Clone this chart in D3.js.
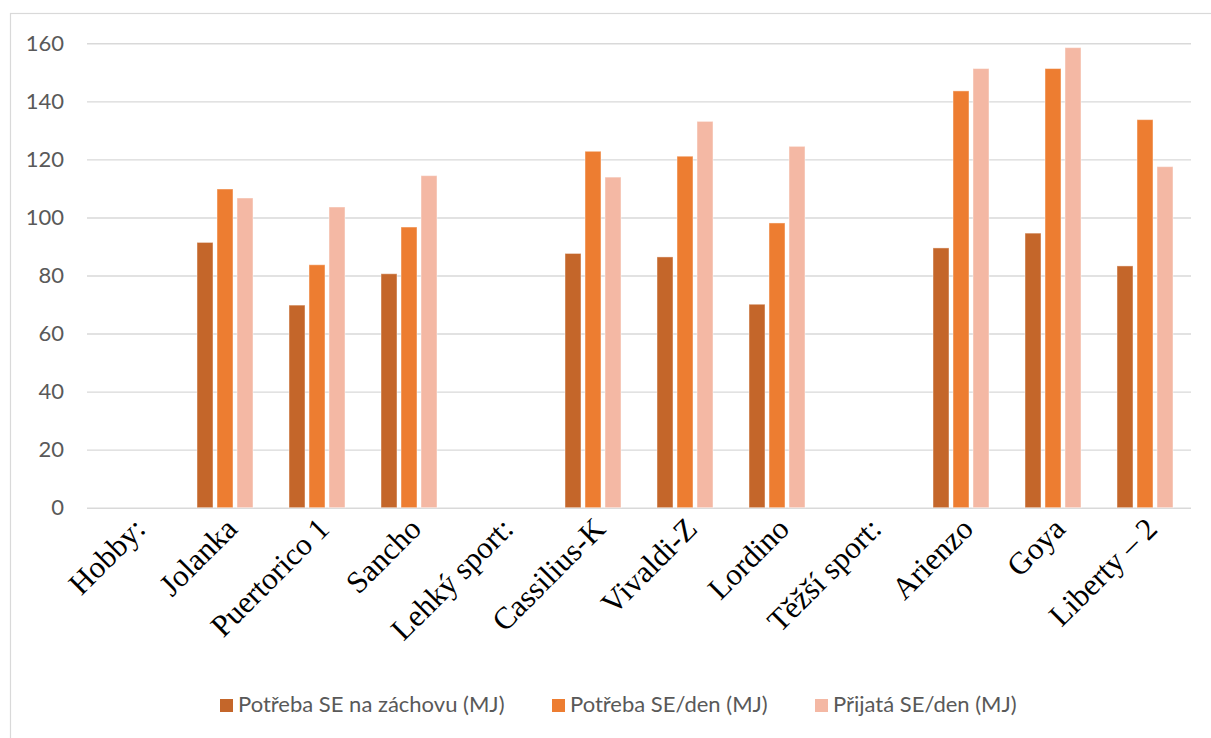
<!DOCTYPE html>
<html>
<head>
<meta charset="utf-8">
<script src="https://cdn.jsdelivr.net/npm/d3@7"></script>
<style>
  html, body { margin: 0; padding: 0; background: #fff; }
  svg { display: block; }
</style>
</head>
<body>
<svg id="chart" width="1211" height="738"></svg>
<script>
// Horses / categories on the x axis (group headers have no bars)
const categories = ["Hobby:", "Jolanka", "Puertorico 1", "Sancho", "Lehký sport:",
  "Cassilius-K", "Vivaldi-Z", "Lordino", "Těžší sport:", "Arienzo", "Goya", "Liberty – 2"];

const seriesNames = ["Potřeba SE na záchovu (MJ)", "Potřeba SE/den (MJ)", "Přijatá SE/den (MJ)"];

// Maintenance energy requirement (MJ)
const maintenance = [null, 91.4, 69.8, 80.6, null, 87.6, 86.4, 70.1, null, 89.5, 94.6, 83.3];
// Daily energy requirement (MJ)
const dailyNeed = [null, 109.8, 83.7, 96.7, null, 122.8, 121.1, 98.1, null, 143.6, 151.3, 133.7];
// Energy actually received per day (MJ)
const received = [null, 106.7, 103.6, 114.4, null, 113.9, 133.1, 124.5, null, 151.3, 158.5, 117.5];

const yTicks = [0, 20, 40, 60, 80, 100, 120, 140, 160];

const colors = ["#C4662A", "#ED7D31", "#F4B8A4"];
const seriesValues = [maintenance, dailyNeed, received];

const svg = d3.select("#chart");

// outer chart frame
svg.append("rect")
  .attr("x", 10.5).attr("y", 13.5)
  .attr("width", 1300).attr("height", 800)
  .attr("fill", "none").attr("stroke", "#D9D9D9").attr("stroke-width", 1.2);

const plot = { left: 87, right: 1191, top: 43.3, bottom: 507.7 };

const x0 = d3.scaleBand().domain(categories).range([plot.left, plot.right]).padding(0);
const x1 = d3.scaleBand().domain(d3.range(seriesNames.length))
  .range([16, x0.bandwidth() - 16]).paddingInner(0.2).paddingOuter(0.1);
const y = d3.scaleLinear().domain([0, 160]).range([plot.bottom, plot.top]);

// gridlines
const yAxis = d3.axisLeft(y).tickValues(yTicks)
  .tickSize(-(plot.right - plot.left)).tickPadding(23);
const gy = svg.append("g").attr("transform", `translate(${plot.left},0)`).call(yAxis);
gy.select(".domain").remove();
gy.selectAll(".tick line").attr("stroke", "#D9D9D9").attr("stroke-width", 1.4);
gy.selectAll(".tick text")
  .attr("fill", "#595959")
  .style("font-family", "Lato, 'Open Sans', sans-serif")
  .style("font-size", "22px");

// bars
const groups = svg.append("g").selectAll("g")
  .data(categories)
  .join("g")
  .attr("transform", d => `translate(${x0(d)},0)`);

groups.selectAll("rect")
  .data((d, i) => seriesValues.map((vals, s) => ({ s, v: vals[i] })).filter(o => o.v != null))
  .join("rect")
  .attr("x", d => x1(d.s))
  .attr("width", x1.bandwidth())
  .attr("y", d => y(d.v))
  .attr("height", d => y(0) - y(d.v))
  .attr("fill", d => colors[d.s])
  .attr("stroke", "#ffffff").attr("stroke-opacity", 0.45).attr("stroke-width", 1);

// category labels, rotated 45°
const xAxis = d3.axisBottom(x0).tickSize(0).tickPadding(0);
const gx = svg.append("g").attr("transform", `translate(0,${plot.bottom})`).call(xAxis);
gx.select(".domain").remove();
gx.selectAll(".tick text")
  .attr("text-anchor", "end")
  .attr("fill", "#000")
  .attr("dy", "0")
  .attr("y", 0)
  .attr("transform", "translate(14,23) rotate(-45)")
  .style("font-family", "'Liberation Serif', 'Times New Roman', serif")
  .style("font-size", "31px");

// legend
const legendItems = [
  { name: seriesNames[0], x: 220 },
  { name: seriesNames[1], x: 552 },
  { name: seriesNames[2], x: 815 }
];
const lg = svg.append("g").selectAll("g")
  .data(legendItems)
  .join("g")
  .attr("transform", d => `translate(${d.x},699)`);
lg.append("rect")
  .attr("width", 13).attr("height", 13)
  .attr("fill", (d, i) => colors[i]);
lg.append("text")
  .attr("x", 18).attr("y", 13)
  .attr("fill", "#595959")
  .style("font-family", "Lato, 'Open Sans', sans-serif")
  .style("font-size", "22px")
  .text(d => d.name);
</script>
</body>
</html>
